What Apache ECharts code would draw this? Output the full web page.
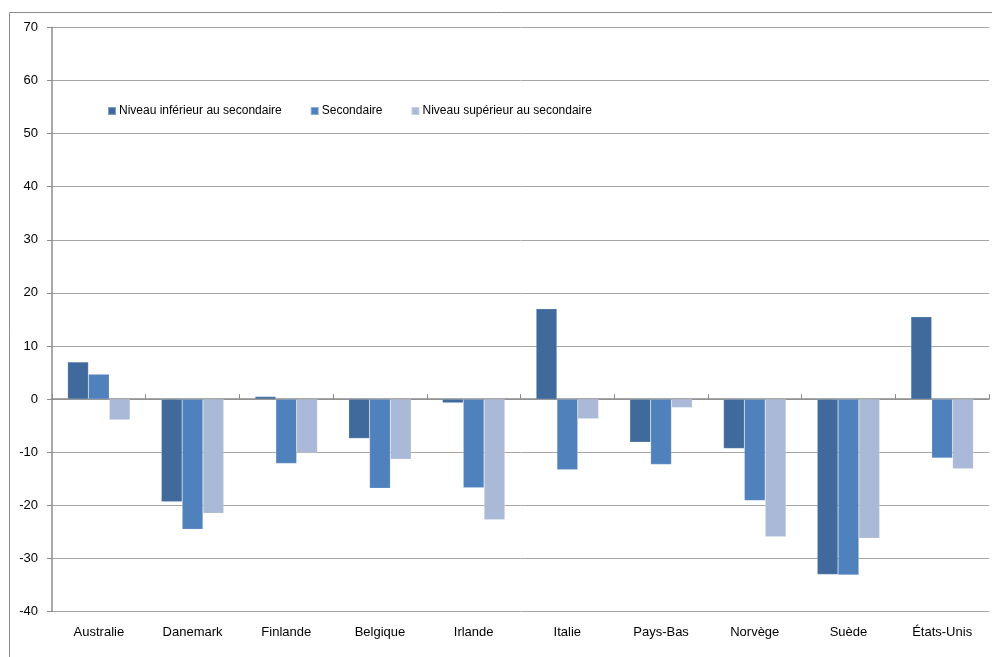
<!DOCTYPE html>
<html>
<head>
<meta charset="utf-8">
<script src="https://cdn.jsdelivr.net/npm/echarts@6/dist/echarts.min.js"></script>
<style>
html,body{margin:0;padding:0;background:#fff;}
#chart{width:992px;height:657px;}
</style>
</head>
<body>
<div id="chart"></div>
<script>
const categories = ["Australie","Danemark","Finlande","Belgique","Irlande","Italie","Pays-Bas","Norvège","Suède","États-Unis"];
const seriesNames = ["Niveau inférieur au secondaire","Secondaire","Niveau supérieur au secondaire"];
const inferieur = [7.0,-19.3,0.5,-7.4,-0.7,17.0,-8.1,-9.3,-33.0,15.5];
const secondaire = [4.7,-24.5,-12.1,-16.8,-16.7,-13.3,-12.3,-19.1,-33.1,-11.1];
const superieur = [-3.9,-21.5,-10.1,-11.3,-22.7,-3.7,-1.6,-25.9,-26.2,-13.1];
const yTicks = [-40,-30,-20,-10,0,10,20,30,40,50,60,70];

const colors = ['#3F6A9B','#4F81BD','#AAB9D8'];
const font = '"Liberation Sans", Arial, sans-serif';

const chart = echarts.init(document.getElementById('chart'), null, {renderer:'canvas'});
const mk = (name, data, i) => ({
  name, type:'bar', data, xAxisIndex:0, yAxisIndex:0,
  barGap:'0%', barCategoryGap:'33.3%',
  itemStyle:{color:colors[i], borderColor:'rgba(255,255,255,0.35)', borderWidth:0.5},
  emphasis:{disabled:true}
});
chart.setOption({
  animation:false,
  textStyle:{fontFamily:font},
  graphic:[{type:'rect', shape:{x:9.5,y:12.5,width:1100,height:800}, style:{fill:null, stroke:'#8C8C8C', lineWidth:1}, silent:true, z:-1}],
  legend:{
    data:seriesNames, left:102, top:100, itemWidth:8, itemHeight:8, itemGap:28,
    icon:'rect',
    textStyle:{fontFamily:font, fontSize:12, color:'#000', padding:[0,0,0,-2]}
  },
  grid:{left:52, right:3, top:27.3, bottom:45.4, containLabel:false},
  xAxis:[{
    type:'category', data:categories, position:'bottom',
    axisLine:{show:false, onZero:false}, axisTick:{show:false},
    axisLabel:{fontFamily:font, fontSize:13, color:'#000', margin:14}
  },{
    type:'category', data:categories, position:'bottom',
    axisLine:{show:true, onZero:true, lineStyle:{color:'#8C8C8C', width:1.5}},
    axisTick:{show:true, inside:true, length:5, lineStyle:{color:'#8C8C8C'}},
    axisLabel:{show:false}
  }],
  yAxis:{
    type:'value', min:-40, max:70, interval:10,
    axisLine:{show:true, lineStyle:{color:'#8C8C8C', width:1.5}},
    axisTick:{show:true, length:5, lineStyle:{color:'#8C8C8C'}},
    axisLabel:{fontFamily:font, fontSize:13, color:'#000', margin:14,
      formatter:v => yTicks.includes(v) ? String(v) : ''},
    splitLine:{show:true, lineStyle:{color:'#A6A6A6', width:1}}
  },
  series:[mk(seriesNames[0],inferieur,0), mk(seriesNames[1],secondaire,1), mk(seriesNames[2],superieur,2)]
});
</script>
</body>
</html>
